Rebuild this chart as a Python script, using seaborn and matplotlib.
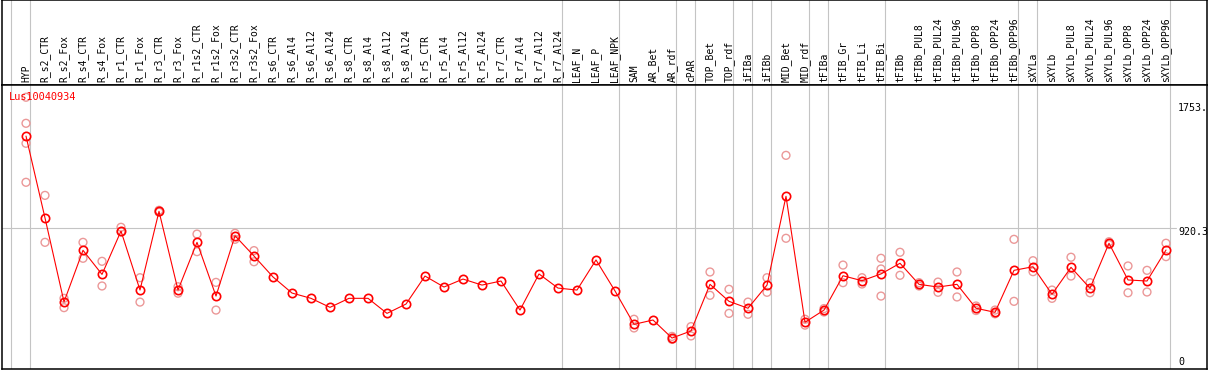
import numpy as np
import pandas as pd
import matplotlib
matplotlib.use("Agg")
import matplotlib.pyplot as plt
import matplotlib.transforms as mtransforms
import seaborn as sns

categories = [
    "HYP", "R_s2_CTR", "R_s2_Fox", "R_s4_CTR", "R_s4_Fox", "R_r1_CTR", "R_r1_Fox",
    "R_r3_CTR", "R_r3_Fox", "R_r1s2_CTR", "R_r1s2_Fox", "R_r3s2_CTR", "R_r3s2_Fox",
    "R_s6_CTR", "R_s6_Al4", "R_s6_Al12", "R_s6_Al24", "R_s8_CTR", "R_s8_Al4",
    "R_s8_Al12", "R_s8_Al24", "R_r5_CTR", "R_r5_Al4", "R_r5_Al12", "R_r5_Al24",
    "R_r7_CTR", "R_r7_Al4", "R_r7_Al12", "R_r7_Al24", "LEAF_N", "LEAF_P", "LEAF_NPK",
    "SAM", "AR_Bet", "AR_rdf", "cPAR", "TOP_Bet", "TOP_rdf", "iFIBa", "iFIBb",
    "MID_Bet", "MID_rdf", "tFIBa", "tFIB_Gr", "tFIB_Li", "tFIB_Bi", "tFIBb",
    "tFIBb_PUL8", "tFIBb_PUL24", "tFIBb_PUL96", "tFIBb_OPP8", "tFIBb_OPP24",
    "tFIBb_OPP96", "sXYLa", "sXYLb", "sXYLb_PUL8", "sXYLb_PUL24", "sXYLb_PUL96",
    "sXYLb_OPP8", "sXYLb_OPP24", "sXYLb_OPP96",
]

means = [
    1531, 987, 429, 772, 612, 900, 508, 1031, 508, 825, 468, 869, 734,
    595, 488, 453, 393, 453, 453, 353, 415, 601, 528, 581, 541,
    568, 375, 615, 521, 508, 708, 502,
    280, 309, 189, 236, 546, 433, 387, 541, 1131, 294,
    375, 603, 570, 615, 686, 546, 528, 546, 387, 360, 639,
    663, 480, 659, 520, 819, 575, 568, 774,
]

replicates = [
    [1789, 1616, 1483, 1224], [1137, 825], [453, 391], [825, 719], [699, 535],
    [925, 895], [590, 428], [1038, 1025], [530, 487], [880, 763], [559, 375],
    [885, 845], [770, 696],
    [], [], [], [], [], [], [], [], [], [], [], [], [], [], [], [], [], [], [],
    [314, 256], [], [200, 180], [265, 203], [628, 473], [513, 353], [428, 347],
    [590, 493], [1403, 852], [314, 275],
    [385, 362], [674, 557], [590, 548], [719, 648, 468], [759, 606],
    [557, 535], [561, 493], [628, 462], [402, 372], [375, 350], [845, 433],
    [703, 630], [508, 453], [726, 601], [557, 490], [829, 810], [668, 490],
    [639, 495], [819, 730],
]

group_ends = [-1, 0, 28, 31, 34, 35, 37, 38, 39, 41, 42, 45, 52, 53, 60]
gene_title = "Lus10040934"
ref_values = [0.0, 920.3, 1753.0]
ref_labels = ["0", "920.3", "1753."]

sns.set_style("white")
plt.rcParams["font.family"] = ["DejaVu Sans Mono"]

W, H = 1209, 370
fig = plt.figure(figsize=(W / 100, H / 100), dpi=100)


def fx(p):
    return p / W


def fy(p):
    return 1 - p / H


left, right = 2, 1207
ax_h = fig.add_axes([fx(left), fy(85), fx(right) - fx(left), fy(0) - fy(85)])
ax = fig.add_axes([fx(left), fy(369), fx(right) - fx(left), fy(85) - fy(369)])

# x scale: first category at pixel 26, step 19 px
x0, step = 26, 19
xlim = ((left - x0) / step, (right - x0) / step)
# y scale: value 0 at pixel 366.5, 0.1505 px per unit
y0, k = 366.5, 0.1505
ylim = ((y0 - 369) / k, (y0 - 85) / k)

pos = np.arange(len(categories))
mean_df = pd.DataFrame({"pos": pos, "value": means, "cat": categories})
rep_rows = [(i, v) for i, reps in enumerate(replicates) for v in reps]
rep_df = pd.DataFrame(rep_rows, columns=["pos", "value"])

grid_col = "#c4c4c4"
for b in group_ends:
    xb = b + 0.235
    ax.axvline(xb, color=grid_col, lw=0.8, zorder=0)
    ax_h.axvline(xb, color=grid_col, lw=0.8, zorder=0)
ax.axhline(ref_values[1], xmin=0, xmax=(1176 - left) / (right - left),
           color=grid_col, lw=0.8, zorder=0)

rep_color = "#eb9898"
sns.scatterplot(data=rep_df, x="pos", y="value", marker="o", s=32,
                facecolor="none", edgecolor=rep_color, linewidth=1.0,
                ax=ax, zorder=2, legend=False)
sns.lineplot(data=mean_df, x="pos", y="value", color="red", lw=0.8,
             marker="o", markersize=6.0, markerfacecolor="none",
             markeredgecolor="red", markeredgewidth=1.2, ax=ax, zorder=3,
             legend=False)

ax.set_xlim(*xlim)
ax.set_ylim(*ylim)
ax_h.set_xlim(*xlim)
ax_h.set_ylim(0, 1)
for a in (ax, ax_h):
    a.set_xticks([])
    a.set_yticks([])
    a.set_xlabel("")
    a.set_ylabel("")
    for s in a.spines.values():
        s.set_color("black")
        s.set_linewidth(1.1)
        s.set_visible(True)

for i, c in enumerate(categories):
    ax_h.text(i, 0.03, c, rotation=90, ha="center", va="bottom",
              fontsize=7.0, color="black")

title_tr = mtransforms.blended_transform_factory(ax.transAxes, ax.transData)
ax.text((9 - left) / (right - left), (y0 - 97) / k, gene_title, color="red",
        fontsize=7.4, ha="left", va="center", transform=title_tr)

label_x = (1178 - left) / (right - left)
offsets = [4.5, -4, -5]
for v, lab, off in zip(ref_values, ref_labels, offsets):
    ax.annotate(lab, xy=(label_x, v), xycoords=("axes fraction", "data"),
                xytext=(0, off), textcoords="offset pixels",
                ha="left", va="center", fontsize=7.2, color="black",
                annotation_clip=False)

fig.savefig("out.png", dpi=100)
